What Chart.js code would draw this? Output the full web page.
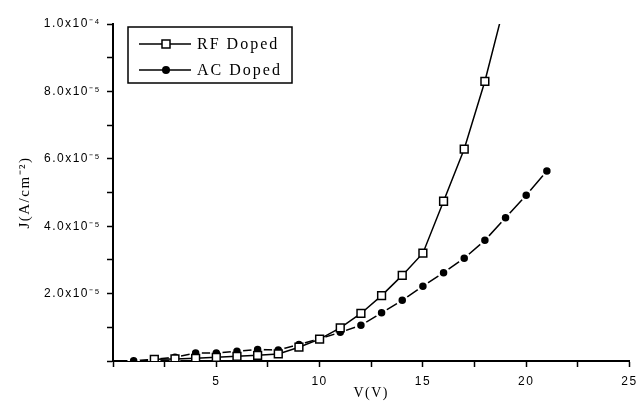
<!DOCTYPE html>
<html>
<head>
<meta charset="utf-8">
<script src="https://cdn.jsdelivr.net/npm/chart.js@4.4.1/dist/chart.umd.min.js"></script>
<style>
  html, body { margin: 0; padding: 0; background: #fff; }
  #wrap { width: 637px; height: 406px; position: relative; }
</style>
</head>
<body>
<div id="wrap"><canvas id="chart"></canvas></div>
<script>
// J-V data (A/cm^2)
const voltsRF = [2, 3, 4, 5, 6, 7, 8, 9, 10, 11, 12, 13, 14, 15, 16, 17, 18, 19];
const currentRF = [0.5e-6, 0.6e-6, 0.8e-6, 1.1e-6, 1.4e-6, 1.7e-6, 2.1e-6, 4.1e-6, 6.5e-6, 9.8e-6,
  14.1e-6, 19.4e-6, 25.4e-6, 32.0e-6, 47.4e-6, 62.9e-6, 83.0e-6, 107e-6];

const voltsAC = [1, 2, 3, 4, 5, 6, 7, 8, 9, 10, 11, 12, 13, 14, 15, 16, 17, 18, 19, 20, 21];
const currentAC = [0.1e-6, 0.5e-6, 1.1e-6, 2.4e-6, 2.4e-6, 2.9e-6, 3.4e-6, 3.3e-6, 4.9e-6, 6.6e-6,
  8.5e-6, 10.6e-6, 14.3e-6, 18.0e-6, 22.2e-6, 26.2e-6, 30.5e-6, 35.8e-6, 42.5e-6, 49.2e-6, 56.4e-6];

const seriesNames = ["RF Doped", "AC Doped"];

const xLabelValues = [5, 10, 15, 20, 25];
const yLabelValues = [2e-5, 4e-5, 6e-5, 8e-5, 1e-4];
const yLabelText = ["2.0x10\u207B\u2075", "4.0x10\u207B\u2075", "6.0x10\u207B\u2075", "8.0x10\u207B\u2075", "1.0x10\u207B\u2074"];

const toPoints = (xs, ys) => xs.map((x, i) => ({ x: x, y: ys[i] }));

Chart.defaults.font.family = "'Liberation Sans', Arial, sans-serif";
Chart.defaults.color = "#000";

// wider letter spacing like the scanned figure
const spacing = {
  id: "spacing",
  beforeDraw(chart) { chart.ctx.letterSpacing = "1.5px"; },
  beforeLayout(chart) { chart.ctx.letterSpacing = "1.5px"; }
};

// legend box inside the plot, line with marker in the middle
const boxLegend = {
  id: "boxLegend",
  afterDraw(chart) {
    const ctx = chart.ctx;
    const a = chart.chartArea;
    const bx = a.left + 15, by = a.top + 3, bw = 164, bh = 56;
    ctx.save();
    ctx.strokeStyle = "#000";
    ctx.lineWidth = 1.5;
    ctx.strokeRect(bx, by, bw, bh);
    ctx.font = "16px 'Liberation Serif', 'Times New Roman', serif";
    ctx.letterSpacing = "2px";
    ctx.textBaseline = "middle";
    ctx.fillStyle = "#000";
    chart.data.datasets.forEach((ds, i) => {
      const y = by + 17 + i * 26;
      ctx.beginPath();
      ctx.moveTo(bx + 11, y);
      ctx.lineTo(bx + 63, y);
      ctx.lineWidth = 1.5;
      ctx.stroke();
      const mx = bx + 38;
      if (ds.pointStyle === "rect") {
        ctx.fillStyle = "#fff";
        ctx.fillRect(mx - 4, y - 4, 8, 8);
        ctx.strokeRect(mx - 4, y - 4, 8, 8);
      } else {
        ctx.fillStyle = "#000";
        ctx.beginPath();
        ctx.arc(mx, y, 4, 0, Math.PI * 2);
        ctx.fill();
      }
      ctx.fillStyle = "#000";
      ctx.fillText(ds.label, bx + 69, y + 1);
    });
    ctx.restore();
  }
};

new Chart(document.getElementById("chart"), {
  type: "line",
  data: {
    datasets: [
      {
        label: seriesNames[0],
        data: toPoints(voltsRF, currentRF),
        borderColor: "#000",
        borderWidth: 1.5,
        pointStyle: "rect",
        pointRadius: 5.5,
        pointBackgroundColor: "#fff",
        pointBorderColor: "#000",
        pointBorderWidth: 1.5,
        tension: 0
      },
      {
        label: seriesNames[1],
        data: toPoints(voltsAC, currentAC),
        borderColor: "#000",
        borderWidth: 1.5,
        pointStyle: "circle",
        pointRadius: 5,
        pointBackgroundColor: "#000",
        pointBorderColor: "#fff",
        pointBorderWidth: 2.5,
        tension: 0
      }
    ]
  },
  plugins: [spacing, boxLegend],
  options: {
    responsive: true,
    maintainAspectRatio: false,
    animation: false,
    layout: { padding: { top: 24, right: 7, left: 0, bottom: 0 } },
    plugins: {
      legend: { display: false },
      tooltip: { enabled: false }
    },
    scales: {
      x: {
        type: "linear",
        min: 0,
        max: 25,
        afterFit(scale) {
          scale.height = 45;
          scale.paddingLeft = 0;
          scale.paddingRight = 0;
        },
        ticks: {
          stepSize: 2.5,
          autoSkip: false,
          maxRotation: 0,
          padding: 7,
          font: { size: 12 },
          callback: v => xLabelValues.includes(v) ? String(v) : ""
        },
        grid: {
          drawOnChartArea: false,
          drawTicks: true,
          tickLength: 6,
          tickColor: "#000",
          tickWidth: 1.5
        },
        border: { color: "#000", width: 2 },
        title: {
          display: true,
          text: "V(V)",
          font: { family: "'Liberation Serif', 'Times New Roman', serif", size: 14 },
          padding: { top: 4, bottom: 4 }
        }
      },
      y: {
        type: "linear",
        min: 0,
        max: 1e-4,
        afterFit(scale) { scale.width = 113; },
        ticks: {
          stepSize: 1e-5,
          autoSkip: false,
          padding: 6,
          font: { size: 12 },
          callback: v => {
            const i = yLabelValues.findIndex(t => Math.abs(t - v) < 1e-9);
            return i >= 0 ? yLabelText[i] : "";
          }
        },
        grid: {
          drawOnChartArea: false,
          drawTicks: true,
          tickLength: 6,
          tickColor: "#000",
          tickWidth: 1.5
        },
        border: { color: "#000", width: 2 },
        title: {
          display: true,
          text: "J(A/cm\u207B\u00B2)",
          font: { family: "'Liberation Serif', 'Times New Roman', serif", size: 15 },
          padding: { top: 16, bottom: 0 }
        }
      }
    }
  }
});
</script>
</body>
</html>
